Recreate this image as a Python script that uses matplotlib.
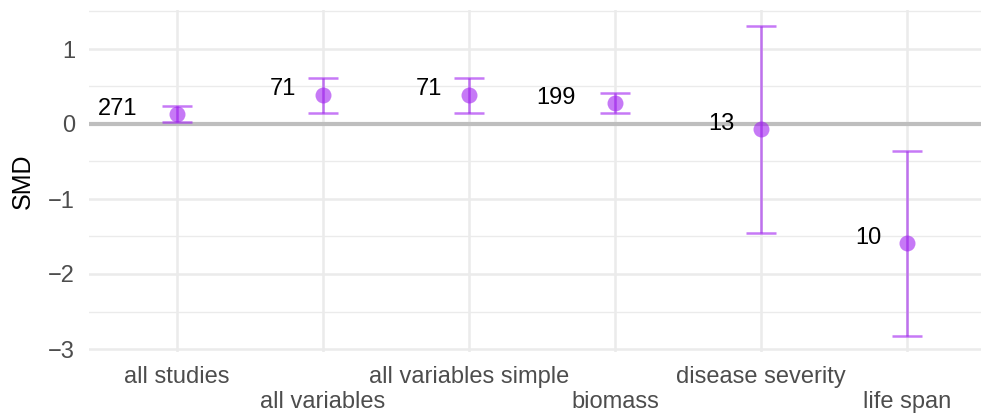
import matplotlib.pyplot as plt
import matplotlib.transforms as mtransforms
import numpy as np

plt.rcParams['font.family'] = ['Liberation Sans', 'DejaVu Sans']

categories = ["all studies", "all variables", "all variables simple",
              "biomass", "disease severity", "life span"]
smd = [0.13, 0.39, 0.39, 0.28, -0.07, -1.59]
ci_low = [0.03, 0.15, 0.15, 0.15, -1.45, -2.83]
ci_high = [0.24, 0.61, 0.61, 0.41, 1.31, -0.36]
n_studies = [271, 71, 71, 199, 13, 10]

purple = "#A020F0"
x = np.arange(1, len(categories) + 1)

fig = plt.figure(figsize=(9.81, 4.15), dpi=100)
ax = fig.add_axes([89 / 981, (415 - 352) / 415, (995 - 89) / 981, (352 - 10) / 415])

# grid like theme_minimal
for v in np.arange(-3, 1.6, 1):
    ax.axhline(v, color="#EBEBEB", lw=1.8, zorder=0)
for v in np.arange(-2.5, 1.6, 1):
    ax.axhline(v, color="#EBEBEB", lw=1.0, zorder=0)
for xi in x:
    ax.axvline(xi, color="#EBEBEB", lw=1.8, zorder=0)
ax.axhline(0, color="#BEBEBE", lw=3.0, zorder=1)

yerr = [np.array(smd) - np.array(ci_low), np.array(ci_high) - np.array(smd)]
ax.errorbar(x, smd, yerr=yerr, fmt="none", ecolor=purple, alpha=0.6,
            elinewidth=1.8, capsize=10.5, capthick=1.8, zorder=2)
ax.plot(x, smd, "o", color=purple, alpha=0.6, markersize=11.5,
        markeredgewidth=0, zorder=3)

# count labels, hjust ~ 2 relative to the point
texts = []
for xi, yi, n in zip(x, smd, n_studies):
    t = ax.text(xi, yi + 0.1, str(n), ha="right", va="center",
                fontsize=17, color="black", zorder=4)
    texts.append(t)

ax.set_xlim(0.4, 6.6)
ax.set_ylim(-3.04, 1.52)
ax.set_yticks([-3, -2, -1, 0, 1])
ax.set_yticklabels(["\u22123", "\u22122", "\u22121", "0", "1"])
ax.set_xticks(x)
ax.set_xticklabels([c if i % 2 == 0 else "\n" + c for i, c in enumerate(categories)])
ax.tick_params(axis="both", length=0, labelsize=17, labelcolor="#4D4D4D")
ax.tick_params(axis="y", pad=10)
ax.tick_params(axis="x", pad=10)
for s in ax.spines.values():
    s.set_visible(False)
ax.set_ylabel("SMD", fontsize=18, color="black")
ax.yaxis.set_label_coords(-54 / 906, 0.5)

fig.canvas.draw()
renderer = fig.canvas.get_renderer()
for t in texts:
    w = t.get_window_extent(renderer).width
    t.set_transform(mtransforms.offset_copy(ax.transData, fig=fig,
                                            x=-w * 72 / fig.dpi, y=-1.5, units="points"))

fig.savefig("out.png", dpi=100)
